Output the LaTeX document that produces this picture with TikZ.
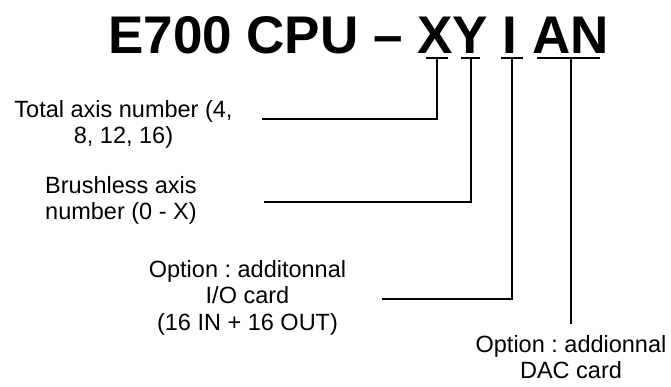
\documentclass[tikz,border=0pt]{standalone}
\usepackage{fontspec}
\setmainfont{Liberation Sans}
\frenchspacing
\begin{document}
\begin{tikzpicture}[x=1pt,y=-1pt,
  lbl/.style={font=\fontsize{23.5}{26.5}\selectfont, inner sep=0pt},
  conn/.style={line width=1.4pt, line cap=rect}]
\useasboundingbox (0,0) rectangle (671,386);
% title
\node[anchor=base west, inner sep=0pt, font=\fontsize{53}{60}\selectfont\bfseries] (title) at (108,53) {E700 CPU – XY I AN};
% tick points under the letters
\coordinate (kX) at (437,58);
\coordinate (kY) at (471,58);
\coordinate (kI) at (512,58);
\coordinate (kA) at (571,58);
% labels (base anchor = baseline of the last line)
\node[lbl, align=center, anchor=base] (total) at (123.5,143.5) {Total axis number (4,\\8, 12, 16)};
\node[lbl, align=left, anchor=base west] (brush) at (45,219.5) {Brushless axis\\number (0 - X)};
\node[lbl, align=center, anchor=base] (io) at (247.5,330) {Option : additonnal\\I/O card\\(16 IN + 16 OUT)};
\node[lbl, align=center, anchor=base] (dac) at (571,378.5) {Option : addionnal\\DAC card};
% free ends of connectors
\coordinate (eX) at (263,119);
\coordinate (eY) at (265,202);
\coordinate (eI) at (383,299);
\coordinate (eA) at (571,323);
% ticks
\draw[conn] ([xshift=-10pt]kX) -- ([xshift=10pt]kX);
\draw[conn] ([xshift=-9pt]kY) -- ([xshift=8pt]kY);
\draw[conn] ([xshift=-10pt]kI) -- ([xshift=10pt]kI);
\draw[conn] ([xshift=-33pt]kA) -- ([xshift=28pt]kA);
% connectors
\draw[conn] (kX) |- (eX);
\draw[conn] (kY) |- (eY);
\draw[conn] (kI) |- (eI);
\draw[conn] (kA) -- (eA);
\end{tikzpicture}
\end{document}
